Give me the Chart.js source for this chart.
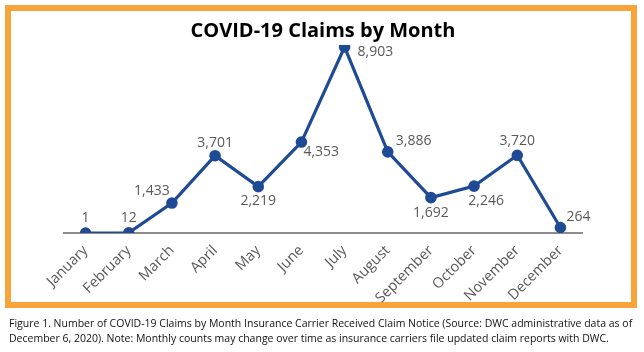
<!DOCTYPE html>
<html>
<head>
<meta charset="utf-8">
<script src="https://cdn.jsdelivr.net/npm/chart.js@4"></script>
<style>
  body { margin: 0; width: 644px; height: 352px; background: #fff; position: relative; overflow: hidden; }
  #frame { position: absolute; left: 5px; top: 5px; width: 620px; height: 291px; border: 6px solid #F9A33B; }
  #caption { position: absolute; left: 9px; top: 316px; width: 632px; font-family: "Open Sans", sans-serif;
    font-size: 10.5px; line-height: 15px; color: #111; }
</style>
</head>
<body>
<div id="frame"></div>
<canvas id="claims-chart" width="644" height="310"></canvas>
<div id="caption">Figure 1. Number of COVID-19 Claims by Month Insurance Carrier Received Claim Notice (Source: DWC administrative data as of December 6, 2020). Note: Monthly counts may change over time as insurance carriers file updated claim reports with DWC.</div>
<script>
const months = ["January", "February", "March", "April", "May", "June", "July",
    "August", "September", "October", "November", "December"];
const claims = [1, 12, 1433, 3701, 2219, 4353, 8903, 3886, 1692, 2246, 3720, 264];

// where each value label sits relative to its point: [dx, dy, align]
const labelSpots = [
    [0, -15, 'center'], [0, -15, 'center'], [-20, -12, 'center'], [0, -13, 'center'],
    [0, 14, 'center'], [2, 10, 'left'], [13, 5, 'left'], [8, -11, 'left'],
    [0, 15, 'center'], [12, 15, 'center'], [0, -14, 'center'], [6, -10, 'left']
];

const valueLabels = {
    id: 'valueLabels',
    afterDatasetsDraw(chart) {
        const ctx = chart.ctx;
        const meta = chart.getDatasetMeta(0);
        ctx.save();
        ctx.font = '14px "Open Sans", sans-serif';
        ctx.fillStyle = '#595959';
        ctx.textBaseline = 'middle';
        meta.data.forEach((pt, i) => {
            const spot = labelSpots[i];
            ctx.textAlign = spot[2];
            ctx.fillText(claims[i].toLocaleString('en-US'), pt.x + spot[0], pt.y + spot[1]);
        });
        ctx.restore();
    }
};

const claimsCanvas = document.getElementById("claims-chart");

let claimsChart = new Chart(claimsCanvas, {
    type: 'line',
    data: {
        labels: months,
        datasets: [{
            data: claims,
            borderColor: '#1F4A94',
            backgroundColor: '#1F4A94',
            borderWidth: 3.2,
            pointRadius: 4.2,
            tension: 0
        }]
    },
    options: {
        responsive: false,
        animation: false,
        layout: {
            padding: { left: 64, right: 62, top: 0, bottom: 0 }
        },
        plugins: {
            legend: { display: false },
            tooltip: { enabled: false },
            title: {
                display: true,
                text: 'COVID-19 Claims by Month',
                color: '#000',
                font: { family: '"Open Sans", sans-serif', size: 20, weight: 'bold' },
                padding: { top: 19, bottom: 2 }
            }
        },
        scales: {
            y: {
                display: false,
                min: 0,
                max: 9000
            },
            x: {
                offset: true,
                grid: { display: false, drawTicks: false },
                border: { display: true, color: '#8C8C8C', width: 2 },
                ticks: {
                    autoSkip: false,
                    minRotation: 45,
                    maxRotation: 45,
                    padding: 9,
                    color: '#595959',
                    font: { family: '"Open Sans", sans-serif', size: 14.5 }
                },
                afterFit(scale) { scale.height = 77; }
            }
        }
    },
    plugins: [valueLabels]
});
</script>
</body>
</html>
